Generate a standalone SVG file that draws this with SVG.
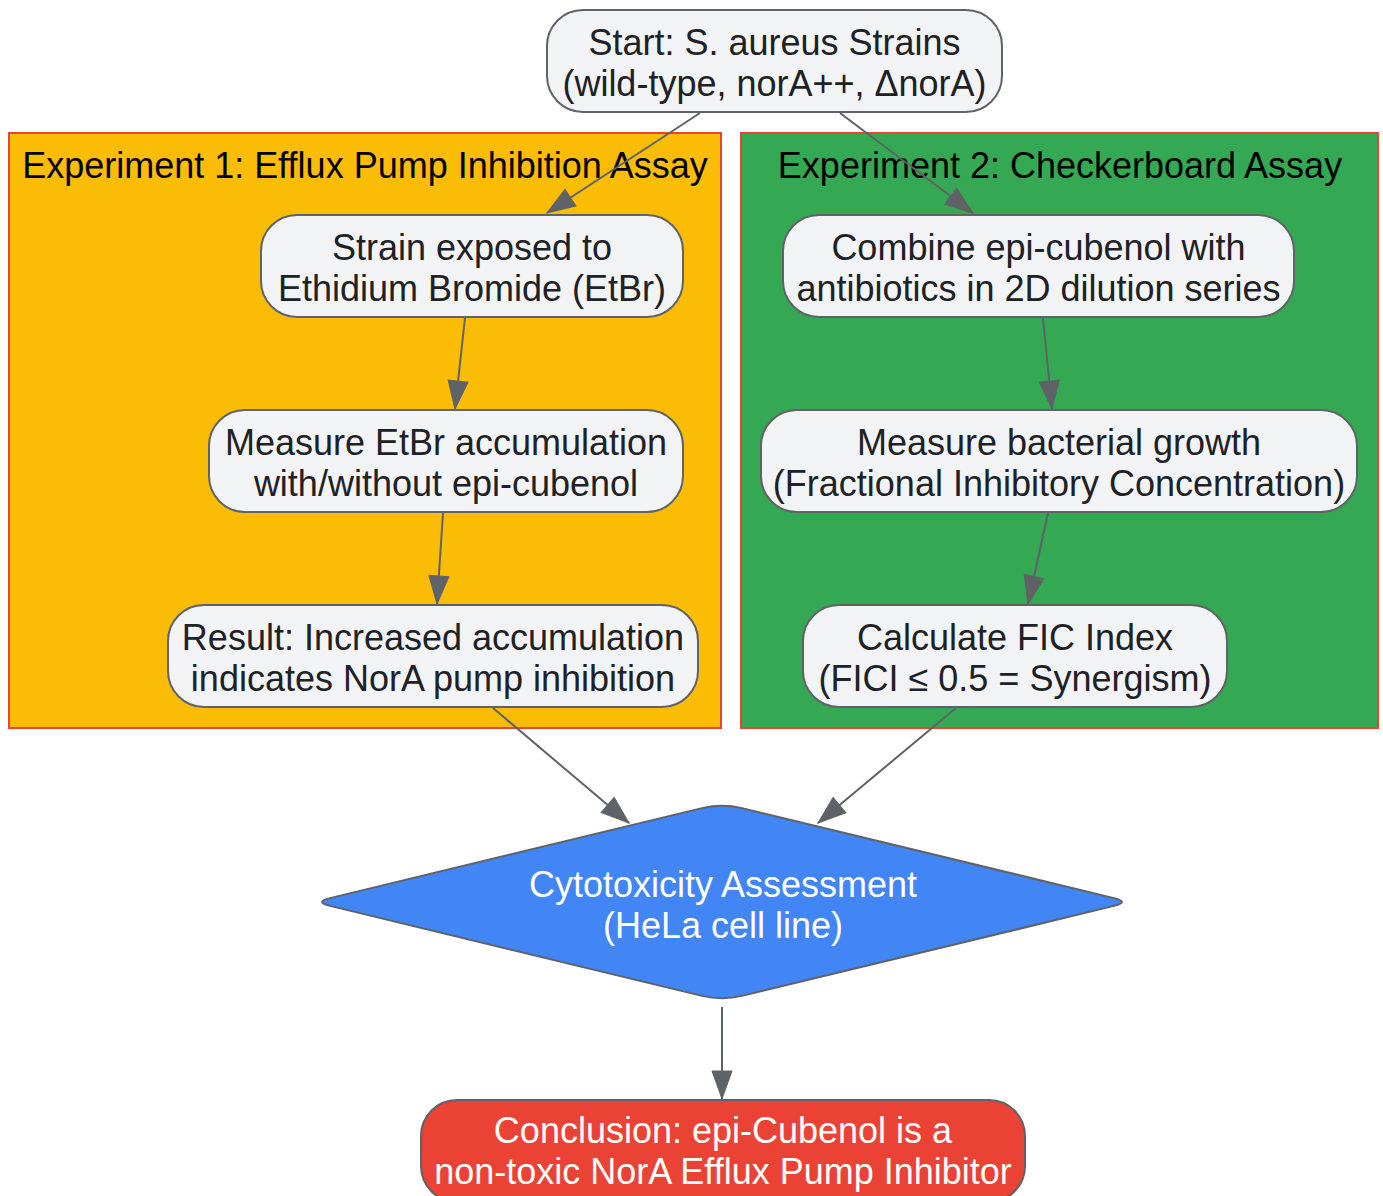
<svg xmlns="http://www.w3.org/2000/svg" width="1383" height="1196" viewBox="0 0 1383 1196">
<defs>
<style>
text{font-family:"Liberation Sans",Arial,sans-serif;font-size:36px;text-anchor:middle}
.node{fill:#F1F3F4;stroke:#5F6368;stroke-width:2}
.nt{fill:#202124}
.wt{fill:#FFFFFF}
.cl{stroke:#EA4335;stroke-width:2}
.ct{fill:#000000}
.edge{stroke:#5F6368;stroke-width:2;fill:none;marker-end:url(#arr)}
</style>
<marker id="arr" markerUnits="userSpaceOnUse" markerWidth="30" markerHeight="22" refX="29" refY="11" orient="auto">
<path d="M1,1 L29,11 L1,21 z" fill="#5F6368" stroke="#5F6368" stroke-width="1"/>
</marker>
</defs>
<rect width="1383" height="1196" fill="#FFFFFF"/>
<g id="cluster1">
<rect class="cl" x="9" y="133" width="712" height="595" fill="#FBBC05"/>
<text class="ct" x="365" y="178">Experiment 1: Efflux Pump Inhibition Assay</text>
</g>
<g id="cluster2">
<rect class="cl" x="741" y="133" width="637" height="595" fill="#34A853"/>
<text class="ct" x="1060" y="178">Experiment 2: Checkerboard Assay</text>
</g>
<g id="connectors">
<line class="edge" x1="700" y1="113" x2="547" y2="213"/>
<line class="edge" x1="840" y1="113" x2="973" y2="213"/>
<line class="edge" x1="465" y1="318" x2="455" y2="409"/>
<line class="edge" x1="443" y1="513" x2="437" y2="604"/>
<line class="edge" x1="1043" y1="318" x2="1052" y2="409"/>
<line class="edge" x1="1048" y1="513" x2="1028" y2="604"/>
<line class="edge" x1="493" y1="708" x2="629" y2="823"/>
<line class="edge" x1="956" y1="708" x2="818" y2="823"/>
<line class="edge" x1="722" y1="1007" x2="722" y2="1099"/>
</g>
<g id="start">
<rect class="node" x="547" y="10" width="455" height="102" rx="36"/>
<text class="nt" x="774.5" y="55">Start: S. aureus Strains</text>
<text class="nt" x="774.5" y="96">(wild-type, norA++, ΔnorA)</text>
</g>
<g id="strain">
<rect class="node" x="261" y="215" width="422" height="102" rx="36"/>
<text class="nt" x="472" y="260">Strain exposed to</text>
<text class="nt" x="472" y="301">Ethidium Bromide (EtBr)</text>
</g>
<g id="measure_etbr">
<rect class="node" x="209" y="410" width="474" height="102" rx="36"/>
<text class="nt" x="446" y="455">Measure EtBr accumulation</text>
<text class="nt" x="446" y="496">with/without epi-cubenol</text>
</g>
<g id="result">
<rect class="node" x="168" y="605" width="530" height="102" rx="36"/>
<text class="nt" x="433" y="650">Result: Increased accumulation</text>
<text class="nt" x="433" y="691">indicates NorA pump inhibition</text>
</g>
<g id="combine">
<rect class="node" x="783" y="215" width="511" height="102" rx="36"/>
<text class="nt" x="1038.5" y="260">Combine epi-cubenol with</text>
<text class="nt" x="1038.5" y="301">antibiotics in 2D dilution series</text>
</g>
<g id="measure_growth">
<rect class="node" x="761" y="410" width="596" height="102" rx="36"/>
<text class="nt" x="1059" y="455">Measure bacterial growth</text>
<text class="nt" x="1059" y="496">(Fractional Inhibitory Concentration)</text>
</g>
<g id="calculate">
<rect class="node" x="803" y="605" width="424" height="102" rx="36"/>
<text class="nt" x="1015" y="650">Calculate FIC Index</text>
<text class="nt" x="1015" y="691">(FICI ≤ 0.5 = Synergism)</text>
</g>
<g id="cytotoxicity">
<path d="M330,898.1 L702,808.1 Q722,803.3 742,808.1 L1114,898.1 Q1130,902 1114,905.9 L742,995.9 Q722,1000.7 702,995.9 L330,905.9 Q314,902 330,898.1 Z" fill="#4285F4" stroke="#5F6368" stroke-width="2"/>
<text class="wt" x="723" y="897">Cytotoxicity Assessment</text>
<text class="wt" x="723" y="938">(HeLa cell line)</text>
</g>
<g id="conclusion">
<rect x="421" y="1100" width="604" height="102" rx="36" fill="#EA4335" stroke="#5F6368" stroke-width="2"/>
<text class="wt" x="723" y="1143">Conclusion: epi-Cubenol is a</text>
<text class="wt" x="723" y="1184">non-toxic NorA Efflux Pump Inhibitor</text>
</g>
</svg>
